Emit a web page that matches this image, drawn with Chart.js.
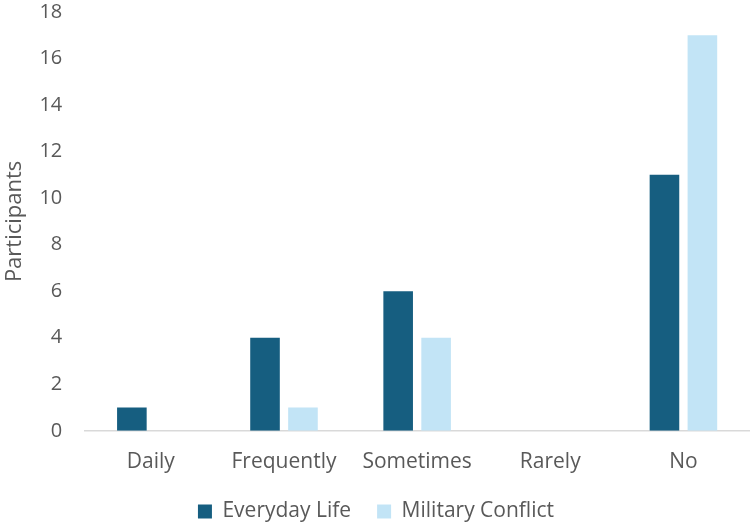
<!DOCTYPE html>
<html>
<head>
<meta charset="utf-8">
<script src="https://cdn.jsdelivr.net/npm/chart.js@4/dist/chart.umd.min.js"></script>
<style>
  html, body { margin: 0; padding: 0; background: #ffffff; }
  #wrap { width: 750px; height: 532px; position: relative; }
</style>
</head>
<body>
<div id="wrap"><canvas id="chart"></canvas></div>
<script>
const categories = ["Daily", "Frequently", "Sometimes", "Rarely", "No"];
const everydayLife = [1, 4, 6, 0, 11];
const militaryConflict = [0, 1, 4, 0, 17];
const seriesNames = ["Everyday Life", "Military Conflict"];
const yTicks = { min: 0, max: 18, step: 2 };

const textColor = "#595959";
const fontFamily = "'Open Sans', 'Noto Sans', sans-serif";

new Chart(document.getElementById("chart"), {
    type: "bar",
    data: {
        labels: categories,
        datasets: [
            {
                label: seriesNames[0],
                data: everydayLife,
                backgroundColor: "#165e80",
                categoryPercentage: 0.57,
                barPercentage: 0.78
            },
            {
                label: seriesNames[1],
                data: militaryConflict,
                backgroundColor: "#c2e4f6",
                categoryPercentage: 0.57,
                barPercentage: 0.78
            }
        ]
    },
    options: {
        responsive: true,
        maintainAspectRatio: false,
        animation: false,
        layout: { padding: { left: 2, right: 0, top: 0, bottom: 0 } },
        scales: {
            x: {
                // tick marks hidden; tickLength only spaces the labels
                grid: { display: false, drawTicks: true, tickLength: 19 },
                border: { display: true, color: "#d9d9d9", width: 1.5 },
                ticks: { color: textColor, font: { family: fontFamily, size: 21 }, padding: 0 }
            },
            y: {
                min: yTicks.min,
                max: yTicks.max,
                grid: { display: false, drawTicks: true, tickLength: 22 },
                border: { display: false },
                ticks: { stepSize: yTicks.step, color: textColor, font: { family: fontFamily, size: 20 }, padding: 0 },
                title: {
                    display: true,
                    text: "Participants",
                    color: textColor,
                    font: { family: fontFamily, size: 22 },
                    padding: { top: 0, bottom: 11 }
                }
            }
        },
        plugins: {
            legend: {
                position: "bottom",
                labels: {
                    color: textColor,
                    font: { family: fontFamily, size: 21 },
                    boxWidth: 14,
                    boxHeight: 14,
                    padding: 26
                }
            },
            tooltip: { enabled: false }
        }
    }
});
</script>
</body>
</html>
